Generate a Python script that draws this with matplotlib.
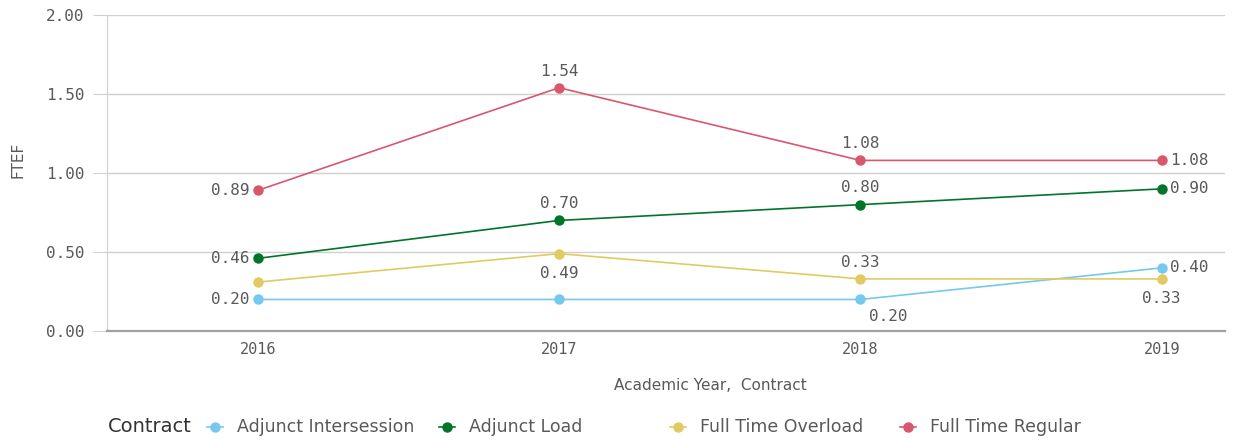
import matplotlib.pyplot as plt
from matplotlib.lines import Line2D

# data
years = ["2016", "2017", "2018", "2019"]
series_names = ["Adjunct Intersession", "Adjunct Load", "Full Time Overload", "Full Time Regular"]
adjunct_intersession = [0.20, 0.20, 0.20, 0.40]
adjunct_load = [0.46, 0.70, 0.80, 0.90]
full_time_overload = [0.31, 0.49, 0.33, 0.33]
full_time_regular = [0.89, 1.54, 1.08, 1.08]
yticks = [0.0, 0.5, 1.0, 1.5, 2.0]

colors = ["#75c8ee", "#00752a", "#e2ca62", "#d9576c"]
values = [adjunct_intersession, adjunct_load, full_time_overload, full_time_regular]

# where each value label sits: (dx, dy) in points, None = no label
label_pos = [
    [(-6, 0), None, (6, -12), (6, 0)],
    [(-6, 0), (0, 12), (0, 12), (6, 0)],
    [None, (0, -14), (0, 12), (0, -14)],
    [(-6, 0), (0, 12), (0, 12), (6, 0)],
]

mono = "DejaVu Sans Mono"
txt = "#595959"

fig = plt.figure(figsize=(12.42, 4.42), dpi=100)
ax = fig.add_axes([0.0862, 0.251, 0.9001, 0.715])

x = list(range(len(years)))
for vals, c, pos in zip(values, colors, label_pos):
    ax.plot(x, vals, color=c, lw=1.2, marker="o", ms=6.5, zorder=3)
    for xi, v, p in zip(x, vals, pos):
        if p is None:
            continue
        dx, dy = p
        ha = "center" if dx == 0 else ("right" if dx < 0 else "left")
        if dx > 0 and dy < 0:
            ha = "left"
        ax.annotate(f"{v:.2f}", (xi, v), xytext=(dx, dy), textcoords="offset points",
                    ha=ha, va="center", fontsize=11.5, family=mono, color=txt, zorder=4)

ax.set_xlim(-0.5, 3.21)
ax.set_ylim(0, 2.0)
ax.set_yticks(yticks)
ax.set_yticklabels([f"{t:.2f}" for t in yticks], family=mono, fontsize=11.5, color=txt)
ax.set_xticks(x)
ax.set_xticklabels(years, family=mono, fontsize=11, color=txt)
ax.tick_params(axis="y", length=10, color="#d0d0d0", pad=6)
ax.tick_params(axis="x", length=0, pad=8)
ax.grid(axis="y", color="#d0d0d0", lw=1)
ax.set_axisbelow(True)
for s in ["top", "right"]:
    ax.spines[s].set_visible(False)
ax.spines["left"].set_color("#d0d0d0")
ax.spines["bottom"].set_color("#a0a0a0")
ax.spines["bottom"].set_linewidth(1.6)

fig.text(18 / 1242, 1 - 160 / 442, "FTEF", rotation=90, ha="center", va="center",
         fontsize=11, color=txt)
fig.text(710 / 1242, 1 - 386 / 442, "Academic Year,  Contract", ha="center", va="center",
         fontsize=11, color=txt)

# legend
fig.text(108 / 1242, 1 - 427 / 442, "Contract", ha="left", va="center", fontsize=14, color="#333333")
leg_x = [215, 447, 678, 908]
for name, c, lx in zip(series_names, colors, leg_x):
    fig.add_artist(Line2D([(lx - 8) / 1242, (lx + 8) / 1242], [1 - 427 / 442] * 2, color=c, lw=1.2,
                          transform=fig.transFigure))
    fig.add_artist(Line2D([lx / 1242], [1 - 427 / 442], color=c, marker="o", ms=6.5,
                          transform=fig.transFigure))
    fig.text((lx + 22) / 1242, 1 - 427 / 442, name, ha="left", va="center", fontsize=12.5, color=txt)

fig.savefig("out.png", dpi=100)
